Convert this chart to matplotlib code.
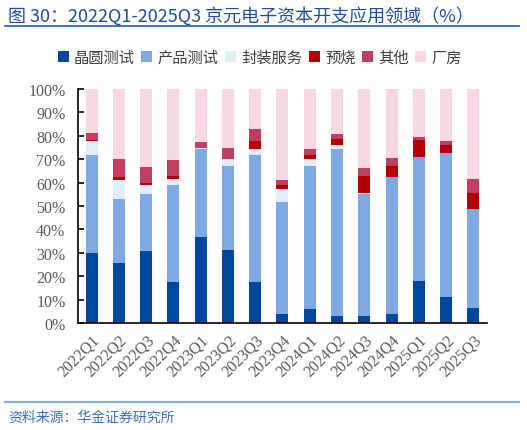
import numpy as np
import matplotlib.pyplot as plt

plt.rcParams['font.family'] = ['Noto Sans CJK SC', 'DejaVu Sans']

quarters = ['2022Q1', '2022Q2', '2022Q3', '2022Q4', '2023Q1', '2023Q2', '2023Q3', '2023Q4',
            '2024Q1', '2024Q2', '2024Q3', '2024Q4', '2025Q1', '2025Q2', '2025Q3']
wafer = [30.0, 25.6, 30.9, 17.6, 36.6, 31.4, 17.7, 3.9, 6.1, 2.9, 3.1, 3.9, 18.0, 11.1, 6.4]
product = [42.0, 27.3, 24.1, 41.3, 38.0, 35.7, 54.3, 48.0, 61.0, 71.4, 51.9, 58.4, 53.1, 61.8, 42.2]
package = [5.7, 8.2, 3.9, 2.8, 0.3, 2.9, 2.3, 5.2, 2.9, 2.0, 0.7, 0.1, 0.0, 0.0, 0.0]
burnin = [0.6, 1.5, 0.8, 1.2, 0.1, 0.2, 3.4, 1.9, 1.7, 2.3, 7.2, 4.9, 7.2, 3.4, 7.1]
other = [3.0, 7.7, 7.0, 6.8, 2.3, 4.5, 5.3, 2.1, 2.6, 2.3, 3.2, 3.3, 1.4, 1.7, 5.7]
plant = [18.7, 29.7, 33.3, 30.3, 22.7, 25.3, 17.0, 38.9, 25.7, 19.1, 33.9, 29.4, 20.3, 22.0, 38.6]

series = [('晶圆测试', wafer, '#00479d'),
          ('产品测试', product, '#80a9e3'),
          ('封装服务', package, '#e2edfb'),
          ('预烧', burnin, '#b40000'),
          ('其他', other, '#c23d62'),
          ('厂房', plant, '#f8d8e1')]

fig = plt.figure(figsize=(5.27, 4.31), dpi=100)
ax = fig.add_axes([0.148, 0.248, 0.776, 0.543])

x = np.arange(len(quarters))
bottom = np.zeros(len(quarters))
for name, vals, col in series:
    ax.bar(x, vals, width=0.44, bottom=bottom, color=col, label=name)
    bottom += np.array(vals)

ax.set_xlim(-0.5, len(quarters) - 0.5)
ax.set_ylim(0, 100)
ax.set_yticks(np.arange(0, 101, 10))
ax.set_yticklabels([f'{v}%' for v in range(0, 101, 10)],
                   family='Liberation Serif', fontsize=11.5, color='#595959')
ax.set_xticks(x)
ax.set_xticklabels(quarters, rotation=45, ha='right', rotation_mode='anchor',
                   family='Liberation Serif', fontsize=11.5, color='#595959')
ax.tick_params(axis='y', direction='in', length=4, width=1.2, pad=9)
ax.tick_params(axis='x', length=0, pad=6)
for s in ['top', 'right']:
    ax.spines[s].set_visible(False)
ax.spines['left'].set_linewidth(1.2)
ax.spines['bottom'].set_linewidth(1.2)

ax.legend(loc='lower center', bbox_to_anchor=(0.445, 1.04), ncol=6, frameon=False,
          handlelength=0.72, handleheight=0.72, handletextpad=0.35, columnspacing=0.42,
          prop={'size': 11}, labelcolor='#404040')

fig.text(0.015, 0.963, '图 30：2022Q1-2025Q3 京元电子资本开支应用领域（%）',
         fontsize=13, color='#1f4e9c', va='center')
fig.add_artist(plt.Line2D([0.01, 0.985], [0.937, 0.937], color='#1f5fa8', lw=1.2))
fig.add_artist(plt.Line2D([0.01, 0.985], [0.065, 0.065], color='#7fb2e0', lw=1.5))
fig.text(0.015, 0.03, '资料来源：华金证券研究所', fontsize=10, color='#3b6fc0',
         style='italic', va='center')

fig.savefig('out.png', dpi=100)
